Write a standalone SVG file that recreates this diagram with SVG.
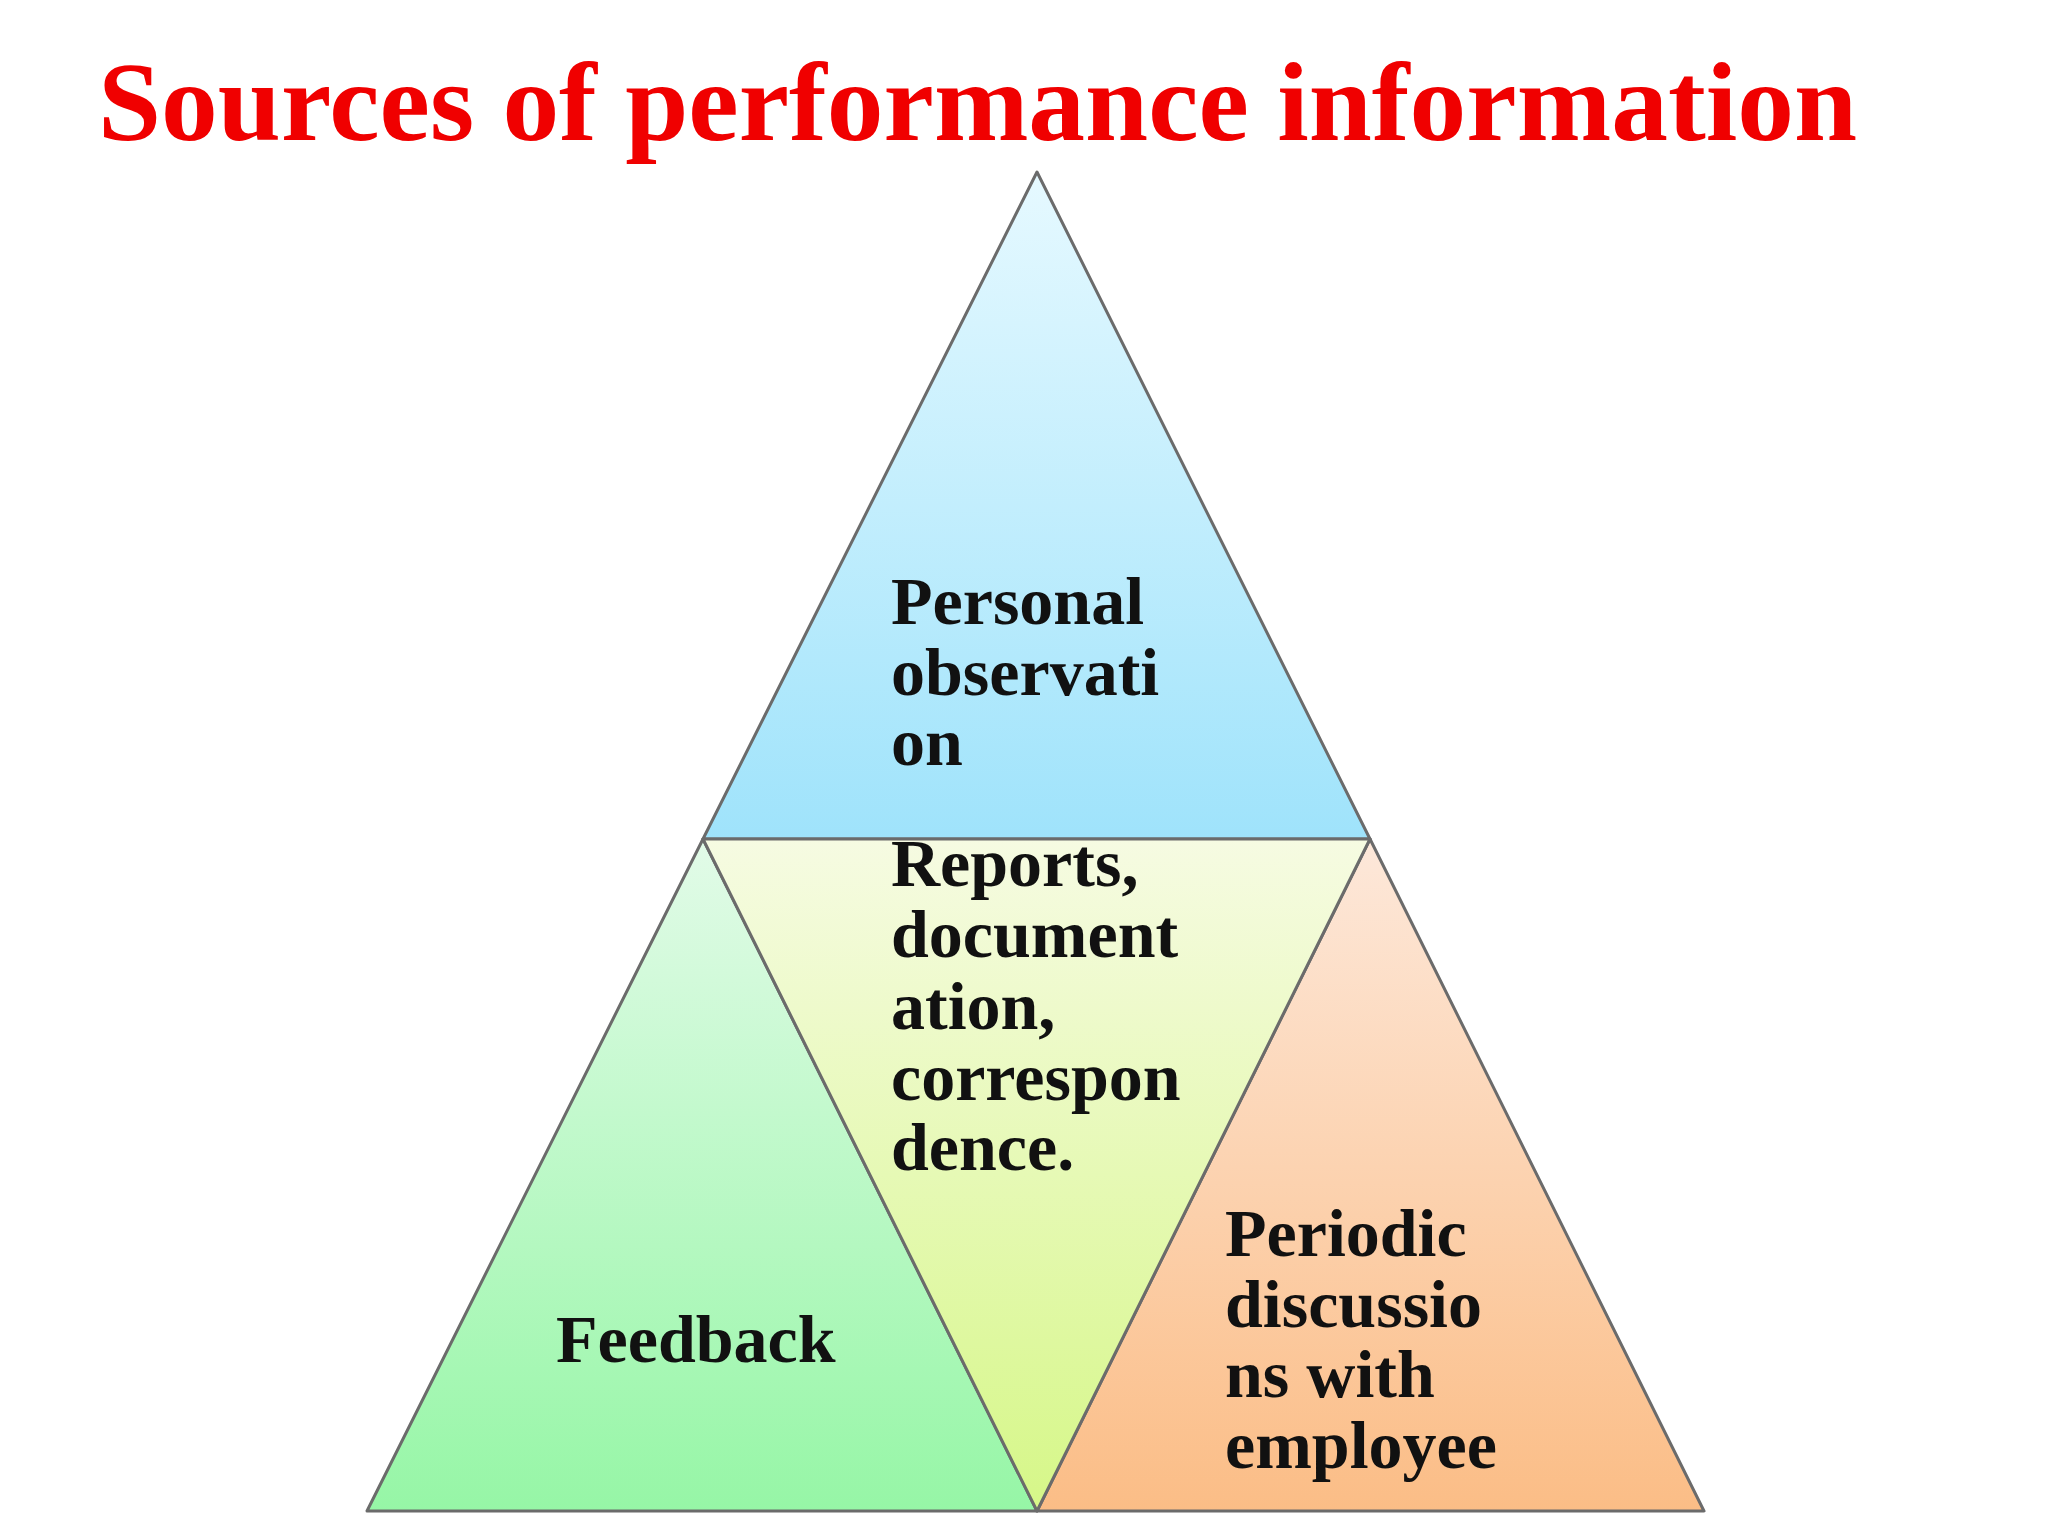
<svg xmlns="http://www.w3.org/2000/svg" width="2048" height="1536" viewBox="0 0 2048 1536">
<defs>
<linearGradient id="gb" x1="0" y1="0" x2="0" y2="1"><stop offset="0" stop-color="#e6f9ff"/><stop offset="1" stop-color="#9fe3fb"/></linearGradient>
<linearGradient id="gy" x1="0" y1="0" x2="0" y2="1"><stop offset="0" stop-color="#f6fbe2"/><stop offset="1" stop-color="#d6f788"/></linearGradient>
<linearGradient id="gg" x1="0" y1="0" x2="0" y2="1"><stop offset="0" stop-color="#e2fbe8"/><stop offset="1" stop-color="#96f6a6"/></linearGradient>
<linearGradient id="go" x1="0" y1="0" x2="0" y2="1"><stop offset="0" stop-color="#fde8da"/><stop offset="1" stop-color="#fbbd86"/></linearGradient>
<style>
.t{stroke:#6b6b6b;stroke-width:3;stroke-linejoin:round}
.l{font-family:"Liberation Serif","Times New Roman",serif;font-weight:bold;font-size:68px;fill:#111}
</style>
</defs>
<rect width="2048" height="1536" fill="#fff"/>
<text x="98" y="140" font-family="Liberation Serif, serif" font-weight="bold" font-size="112" fill="#f00000" textLength="1759" lengthAdjust="spacingAndGlyphs">Sources of performance information</text>
<g id="top"><polygon class="t" fill="url(#gb)" points="1037,172 1370,839 703,839"/>
<text class="l" x="891" y="624">Personal</text><text class="l" x="891" y="695">observati</text><text class="l" x="891" y="765">on</text></g>
<g id="left"><polygon class="t" fill="url(#gg)" points="703,839 1037,1511 367,1511"/>
<text class="l" x="556" y="1362">Feedback</text></g>
<g id="right"><polygon class="t" fill="url(#go)" points="1370,839 1704,1511 1037,1511"/>
<text class="l" x="1225" y="1256">Periodic</text><text class="l" x="1225" y="1327">discussio</text><text class="l" x="1225" y="1397">ns with</text><text class="l" x="1225" y="1468">employee</text></g>
<g id="middle"><polygon class="t" fill="url(#gy)" points="703,839 1370,839 1037,1511"/>
<text class="l" x="891" y="886">Reports,</text><text class="l" x="891" y="957">document</text><text class="l" x="891" y="1029">ation,</text><text class="l" x="891" y="1100">correspon</text><text class="l" x="891" y="1170">dence.</text></g>
<g id="connectors"/>
</svg>
